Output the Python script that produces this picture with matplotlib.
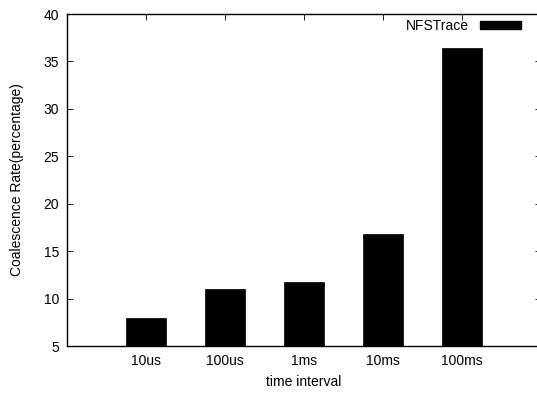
import numpy as np
import matplotlib
matplotlib.use('Agg')
import matplotlib.pyplot as plt
from matplotlib.patches import Patch

plt.rcParams['font.family'] = ['Liberation Sans', 'DejaVu Sans']
plt.rcParams['font.size'] = 10

# data
intervals = ['10us', '100us', '1ms', '10ms', '100ms']
rates = [7.92, 10.98, 11.78, 16.81, 36.45]
series_name = 'NFSTrace'

fig = plt.figure(figsize=(5.37, 3.94), dpi=100)
ax = fig.add_axes([67.3 / 537, 48 / 394, (541 - 67.3) / 537, 332 / 394])

x = np.arange(len(intervals))
ax.bar(x, rates, width=0.51, bottom=0, color='black', edgecolor='black', linewidth=0.5)

ax.set_xlim(-1, 5)
ax.set_ylim(5, 40)
ax.set_yticks(np.arange(5, 41, 5))
ax.set_xticks(x)
ax.set_xticklabels(intervals)

ax.tick_params(direction='in', length=4, width=0.6, top=True, right=True, pad=6)
for s in ax.spines.values():
    s.set_linewidth(1.0)

ax.set_xlabel('time interval', labelpad=5)
ax.set_ylabel('Coalescence Rate(percentage)', labelpad=14)

handle = Patch(facecolor='black', edgecolor='black')
ax.legend([handle], [series_name], loc='upper right', markerfirst=False, frameon=False,
          handlelength=2.95, handleheight=0.5, handletextpad=0.8,
          borderpad=0, borderaxespad=0, bbox_to_anchor=(0.958, 0.985))

fig.savefig('out.png', dpi=100)
